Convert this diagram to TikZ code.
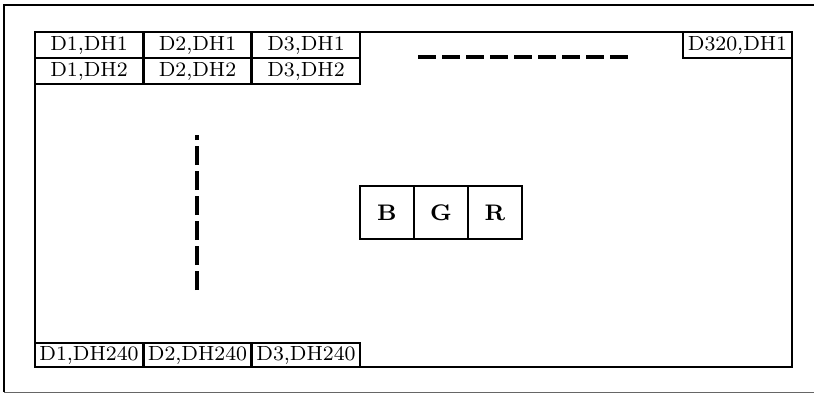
\documentclass[tikz,border=0pt]{standalone}
\usepackage{fontspec}
\newfontfamily\cellfont{lmroman8-regular}[Extension=.otf,BoldFont=lmroman8-bold]
\begin{document}
\begin{tikzpicture}[x=1pt,y=-1pt,
  cell/.style={draw=black,line width=2.6pt,rectangle,inner sep=0pt,
    minimum width=108pt,minimum height=26pt,font=\cellfont\fontsize{20.5}{22}\selectfont},
  lowcell/.style={cell,minimum height=24pt},
  chan/.style={draw=black,line width=2.6pt,rectangle,inner sep=0pt,
    minimum width=54pt,minimum height=53pt,font=\cellfont\fontsize{22.5}{24}\selectfont\bfseries},
  dots/.style={draw=black,line width=4.5pt}
]
\useasboundingbox (0,0) rectangle (814,394);
% outer frame
\draw[black,line width=2pt] (4,392) -- (4,5) -- (816,5);
\draw[black!60,line width=1pt] (4,392) -- (816,392);
% inner frame
\draw[black,line width=2.8pt] (35,32) rectangle (792,367);
% top rows
\node[cell] (a11) at (89,45) {D1,DH1};
\node[cell] (a21) at (197.5,45) {D2,DH1};
\node[cell] (a31) at (306,45) {D3,DH1};
\node[cell] (a12) at (89,71) {D1,DH2};
\node[cell] (a22) at (197.5,71) {D2,DH2};
\node[cell] (a32) at (306,71) {D3,DH2};
\node[cell,minimum width=109pt] (a320) at (737.5,45) {D320,DH1};
% bottom row
\node[lowcell] (b1) at (89,355) {D1,DH240};
\node[lowcell] (b2) at (197.5,355) {D2,DH240};
\node[lowcell] (b3) at (306,355) {D3,DH240};
% BGR
\node[chan] (cb) at (387,212.5) {B};
\node[chan] (cg) at (441,212.5) {G};
\node[chan] (cr) at (495,212.5) {R};
% ellipsis dashes
\coordinate (h1) at (418,57);
\coordinate (h2) at (630,57);
\draw[dots,dash pattern=on 18pt off 6pt] (h1) -- (h2);
\coordinate (v1) at (197,290);
\coordinate (v2) at (197,135);
\draw[dots,dash pattern=on 19pt off 6pt] (v1) -- (v2);
\end{tikzpicture}
\end{document}
